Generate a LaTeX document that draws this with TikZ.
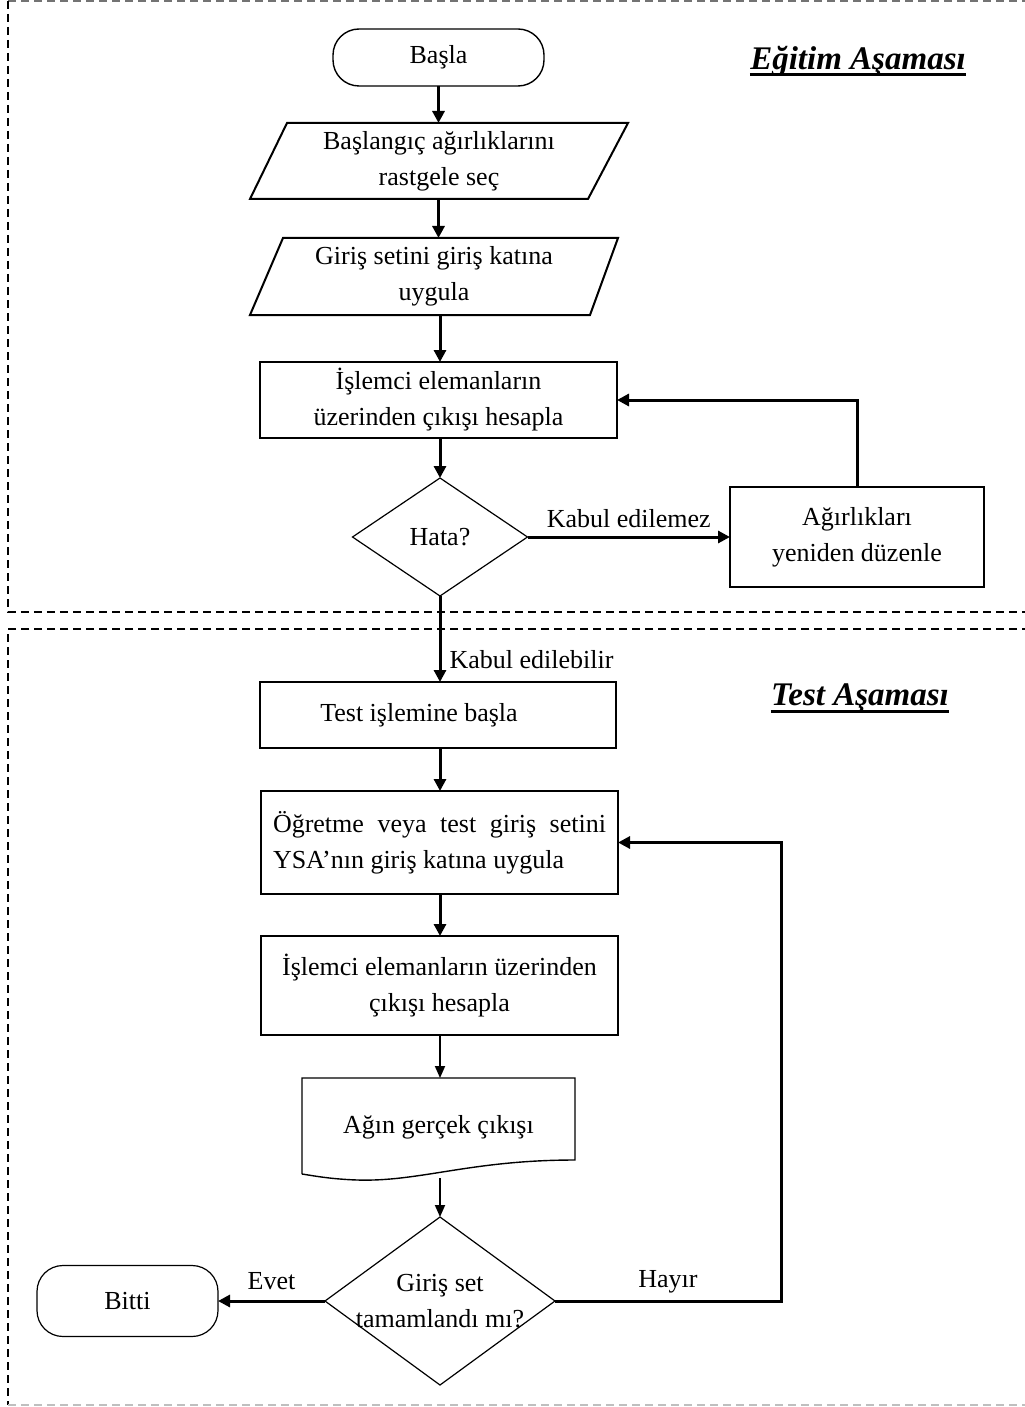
\documentclass[tikz,border=0pt]{standalone}
\usepackage{fontspec}
\setmainfont{Liberation Serif}
\usetikzlibrary{arrows.meta}
\begin{document}
\begin{tikzpicture}[x=0.5pt,y=-0.5pt,
  txt/.style={font=\fontsize{13pt}{18pt}\selectfont},
  box/.style={draw, line width=1pt, inner sep=0pt, outer sep=0pt, align=center, txt},
  term/.style={box, line width=0.7pt, rounded corners=13pt},
  bare/.style={inner sep=0pt, outer sep=0pt, align=center, txt},
  decline/.style={line width=0.6pt, line join=miter},
  arr/.style={line width=1.5pt, -{Triangle[length=6pt,width=6pt]}},
  thinarr/.style={line width=0.9pt, -{Triangle[length=6pt,width=5pt]}},
  lbl/.style={txt, inner sep=1pt},
  frame/.style={dash pattern=on 4pt off 2.5pt, line width=0.7pt},
  head/.style={font=\fontsize{16.5pt}{18pt}\selectfont\bfseries\itshape, inner sep=0pt},
  headrule/.style={line width=1.5pt}
]
\useasboundingbox (0,0) rectangle (1024,1407);

% phase frames
\draw[frame, black!55] (8,1) -- (1030,1);
\draw[frame] (8,1) -- (8,612) -- (1030,612);
\draw[frame] (1030,629) -- (8,629) -- (8,1405);
\draw[frame, black!25] (8,1405) -- (1030,1405);

% phase titles
\node[head, anchor=base] (egitim) at (858,70) {Eğitim Aşaması};
\draw[headrule] ([yshift=-2.5pt]egitim.base west) -- ([yshift=-2.5pt]egitim.base east);
\node[head, anchor=base] (test) at (860,705) {Test Aşaması};
\draw[headrule] ([yshift=-3pt]test.base west) -- ([yshift=-3pt]test.base east);

% training phase
\node[term, minimum width=105.5pt, minimum height=28.5pt] (basla) at (438.5,57.5) {Başla};

\node[bare, minimum width=189pt, minimum height=38pt] (p1) at (439,161)
  {Başlangıç ağırlıklarını\\rastgele seç};
\draw[line width=1pt] (p1.south west) -- ([xshift=18.5pt]p1.north west)
  -- (p1.north east) -- ([xshift=-20pt]p1.south east) -- cycle;

\node[bare, minimum width=184pt, minimum height=38.5pt] (p2) at (434,276.5)
  {Giriş setini giriş katına\\uygula};
\draw[line width=1pt] (p2.south west) -- ([xshift=16.5pt]p2.north west)
  -- (p2.north east) -- ([xshift=-14pt]p2.south east) -- cycle;

\node[box, minimum width=178.5pt, minimum height=38pt] (r1) at (438.5,400)
  {İşlemci elemanların\\üzerinden çıkışı hesapla};

\node[bare, minimum width=87.5pt, minimum height=59pt] (d1) at (440,537) {Hata?};
\draw[decline] (d1.north) -- (d1.east) -- (d1.south) -- (d1.west) -- cycle;

\node[box, minimum width=127pt, minimum height=50pt] (r2) at (857,537)
  {Ağırlıkları\\yeniden düzenle};

% test phase
\node[box, minimum width=178pt, minimum height=33pt] (t1) at (438,715)
  {Test işlemine başla\hspace*{19pt}};

\node[box, minimum width=178.5pt, minimum height=51.5pt, text width=166.5pt, align=justify] (r3) at (439.5,842.5)
  {Öğretme veya test giriş setini\linebreak YSA’nın giriş katına uygula};

\node[box, minimum width=178.5pt, minimum height=49.5pt] (r4) at (439.5,985.5)
  {İşlemci elemanların üzerinden\\çıkışı hesapla};

\node[bare, minimum width=136.5pt, minimum height=49pt] (doc) at (438.5,1127)
  {Ağın gerçek çıkışı};
\draw[line width=0.7pt, line join=miter] (302,1174) -- (doc.north west) -- (doc.north east)
  -- (575,1160) .. controls (470,1160) and (420,1182) .. (357,1180)
  .. controls (330,1179) and (315,1176) .. (302,1174);
\coordinate (docout) at (440,1178);

\node[bare, minimum width=115pt, minimum height=84pt] (d2) at (440,1301)
  {Giriş set\\tamamlandı mı?};
\draw[decline] (d2.north) -- (d2.east) -- (d2.south) -- (d2.west) -- cycle;

\node[term, line width=0.6pt, minimum width=90.5pt, minimum height=35.5pt] (bitti) at (127.5,1301) {Bitti};

\coordinate (turn) at (781,1301);

% main flow
\draw[arr] (basla.south) -- (basla.south |- p1.north);
\draw[arr] (basla.south |- p1.south) -- (basla.south |- p2.north);
\draw[arr] (d1.north |- p2.south) -- (d1.north |- r1.north);
\draw[arr] (d1.north |- r1.south) -- (d1.north);
\draw[arr] (d1.east) -- node[lbl, above=3pt] {Kabul edilemez} (r2.west);
\draw[arr] (r2.north) |- (r1.east);
\draw[arr] (d1.south) -- node[lbl, pos=0.74, right=3pt] {Kabul edilebilir} (d1.south |- t1.north);
\draw[arr] (d1.south |- t1.south) -- (d1.south |- r3.north);
\draw[arr] (d1.south |- r3.south) -- (d1.south |- r4.north);
\draw[thinarr] (d1.south |- r4.south) -- (d1.south |- doc.north);
\draw[thinarr] (docout) -- (d2.north);
\draw[arr] (d2.west) -- node[lbl, above=4pt] {Evet} (bitti.east);
\draw[arr] (d2.east) -- node[lbl, above=2pt] {Hayır} (turn) |- (r3.east);

\end{tikzpicture}
\end{document}
